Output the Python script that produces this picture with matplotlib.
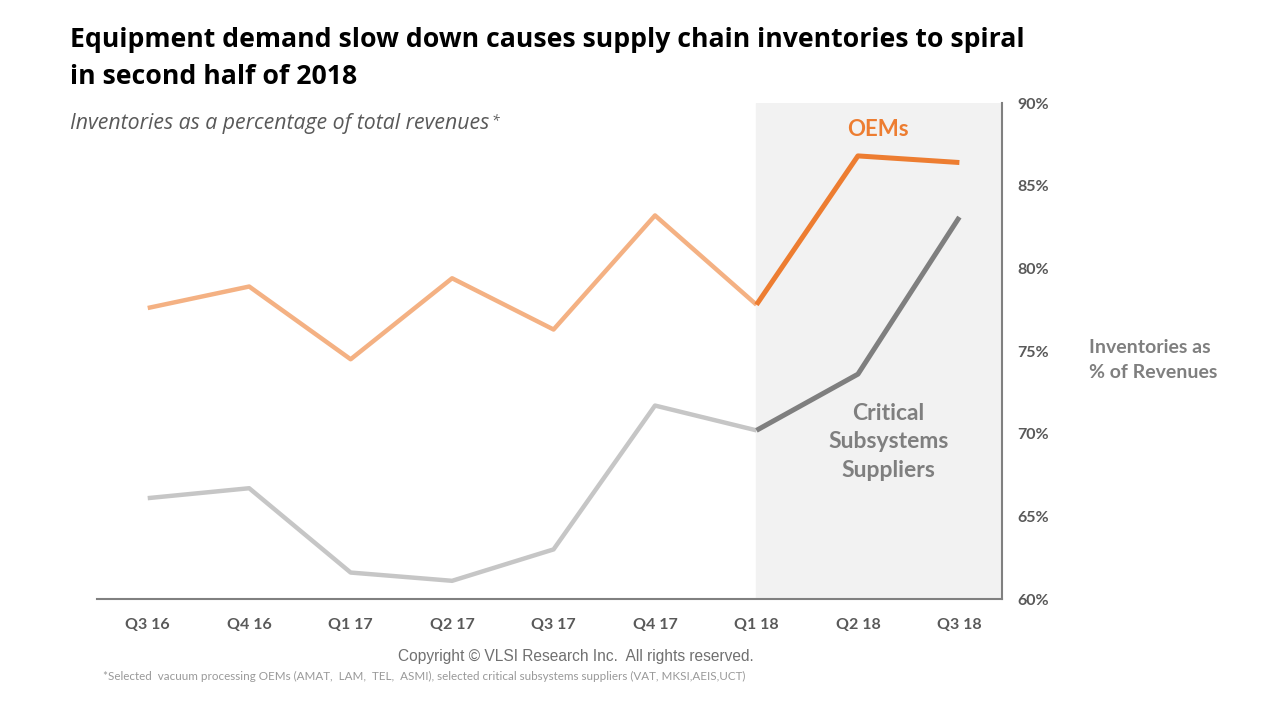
import numpy as np
import matplotlib.pyplot as plt
from matplotlib.ticker import FuncFormatter

plt.rcParams['font.family'] = ['Lato', 'DejaVu Sans']

quarters = ['Q3 16', 'Q4 16', 'Q1 17', 'Q2 17', 'Q3 17', 'Q4 17', 'Q1 18', 'Q2 18', 'Q3 18']
oems = [77.6, 78.9, 74.5, 79.4, 76.3, 83.2, 77.8, 86.8, 86.4]
suppliers = [66.1, 66.7, 61.6, 61.1, 63.0, 71.7, 70.2, 73.6, 83.1]
yticks = [60, 65, 70, 75, 80, 85, 90]
split = 6  # first quarter of the highlighted period

fig = plt.figure(figsize=(12.8, 7.2), dpi=100)
ax = fig.add_axes([97/1280, 1 - 599/720, (1002 - 97)/1280, (599 - 103)/720])

x = np.arange(len(quarters))

ax.axvspan(split, 8.42, color='#f2f2f2', zorder=0)

ax.plot(x[:split + 1], oems[:split + 1], color='#f4b183', lw=3.2, solid_capstyle='butt', zorder=2)
ax.plot(x[split:], oems[split:], color='#ed7d31', lw=3.6, solid_capstyle='butt', zorder=3)
ax.plot(x[:split + 1], suppliers[:split + 1], color='#c6c6c6', lw=3.2, solid_capstyle='butt', zorder=2)
ax.plot(x[split:], suppliers[split:], color='#7f7f7f', lw=3.6, solid_capstyle='butt', zorder=3)

ax.set_xlim(-0.5, 8.42)
ax.set_ylim(60, 90)
ax.set_xticks(x)
ax.set_xticklabels(quarters, fontsize=11.5, fontweight='bold', color='#595959')
ax.set_yticks(yticks)
ax.yaxis.set_major_formatter(FuncFormatter(lambda v, p: '%d%%' % v))
ax.yaxis.tick_right()
for t in ax.get_yticklabels():
    t.set_fontsize(11.5)
    t.set_fontweight('bold')
    t.set_color('#595959')
ax.tick_params(axis='both', length=0)
ax.tick_params(axis='x', pad=14)
ax.tick_params(axis='y', pad=11)

for s in ['top', 'left']:
    ax.spines[s].set_visible(False)
ax.spines['bottom'].set_color('#808080')
ax.spines['right'].set_color('#808080')
ax.spines['bottom'].set_linewidth(1.5)
ax.spines['right'].set_linewidth(1.5)

ax.text(7.2, 88.4, 'OEMs', color='#ed7d31', fontsize=16, fontweight='bold', ha='center', va='center')
ax.text(7.3, 69.5, 'Critical\nSubsystems\nSuppliers', color='#7f7f7f', fontsize=16.5,
        fontweight='bold', ha='center', va='center', linespacing=1.45)

fig.text(70/1280, 1 - 40/720, 'Equipment demand slow down causes supply chain inventories to spiral',
         fontsize=19.2, fontweight='bold', family='Open Sans', color='black', va='center')
fig.text(70/1280, 1 - 77/720, 'in second half of 2018',
         fontsize=19.2, fontweight='bold', family='Open Sans', color='black', va='center')
sub = fig.text(70/1280, 1 - 123/720, 'Inventories as a percentage of total revenues',
               fontsize=15.3, style='italic', family='Open Sans', color='#595959', va='center')
ax.annotate('*', xy=(1.0, 0.55), xycoords=sub, xytext=(2, 0), textcoords='offset points',
            fontsize=10, style='italic', family='Open Sans', color='#595959', va='center')

fig.text(1089/1280, 1 - 360/720, 'Inventories as\n% of Revenues', fontsize=14, fontweight='bold',
         color='#7f7f7f', va='center', ha='left', linespacing=1.55)

fig.text(576/1280, 1 - 656/720, 'Copyright \u00a9 VLSI Research Inc.  All rights reserved.',
         fontsize=11.2, family='Liberation Sans', color='#707070', ha='center', va='center')
fig.text(103/1280, 1 - 676/720,
         '*Selected  vacuum processing OEMs (AMAT,  LAM,  TEL,  ASMI), selected critical subsystems suppliers (VAT, MKSI,AEIS,UCT)',
         fontsize=8.4, color='#999999', ha='left', va='center')

fig.savefig('out.png', dpi=100)
